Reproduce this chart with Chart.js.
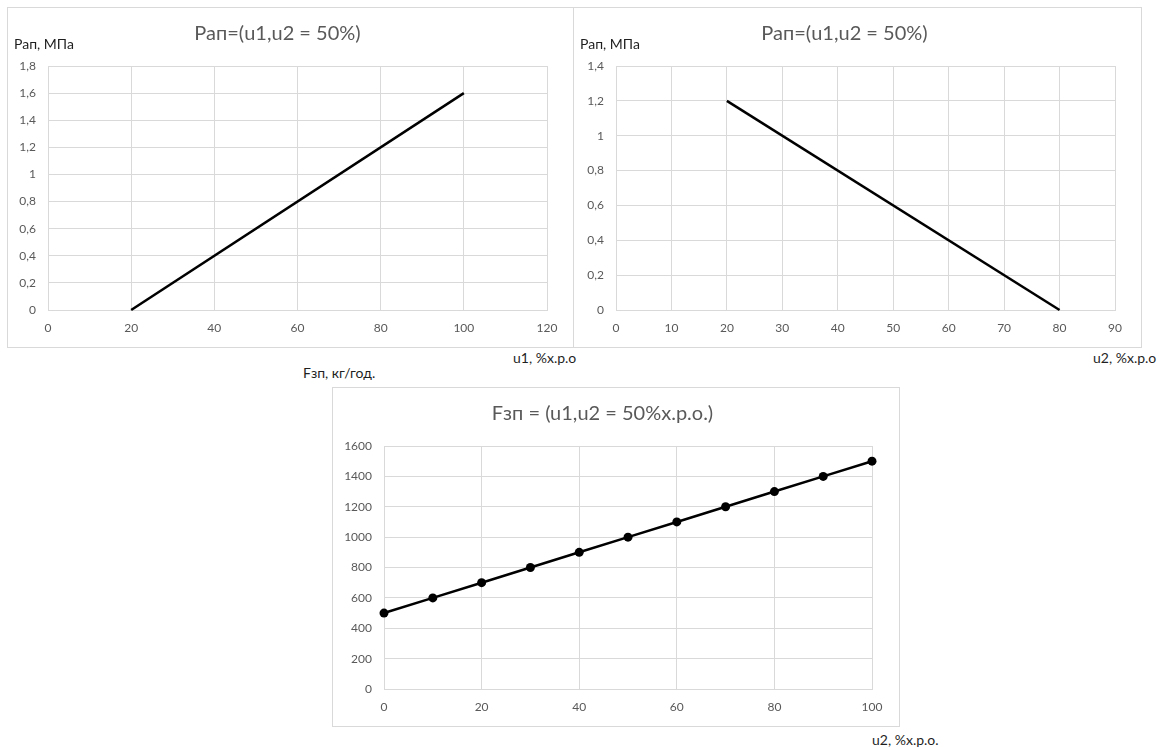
<!DOCTYPE html>
<html>
<head>
<meta charset="utf-8">
<script src="https://cdn.jsdelivr.net/npm/chart.js"></script>
<style>
  body { margin: 0; background: #fff; width: 1163px; height: 747px; position: relative; font-family: Lato, sans-serif; }
  .panel { position: absolute; border: 1px solid #d9d9d9; box-sizing: border-box; }
  .panel canvas { position: absolute; left: 0; top: 0; }
  .axis-title { position: absolute; font-size: 14px; color: #1f1f1f; white-space: nowrap; }
</style>
</head>
<body>

<div class="panel" style="left:7px; top:7px; width:567px; height:341px;"><canvas id="chartU1"></canvas></div>
<div class="panel" style="left:573px; top:7px; width:569px; height:341px;"><canvas id="chartU2"></canvas></div>
<div class="panel" style="left:332px; top:387px; width:568px; height:340px;"><canvas id="chartF"></canvas></div>

<div class="axis-title" style="left:14px; top:35px;">Рап, МПа</div>
<div class="axis-title" style="left:580px; top:35px;">Рап, МПа</div>
<div class="axis-title" style="left:513px; top:349px;">u1, %х.р.о</div>
<div class="axis-title" style="left:1093px; top:349px;">u2, %х.р.о</div>
<div class="axis-title" style="left:303px; top:364px;">Fзп, кг/год.</div>
<div class="axis-title" style="left:872px; top:731px;">u2, %х.р.о.</div>

<script>
// Рап vs u1 (u2 = 50%)
const u1Points = [20, 100];
const papU1 = [0, 1.6];

// Рап vs u2 (u1 = 50%)
const u2Points = [20, 80];
const papU2 = [1.2, 0];

// Fзп vs u2
const u2Steps = [0, 10, 20, 30, 40, 50, 60, 70, 80, 90, 100];
const fzpValues = [500, 600, 700, 800, 900, 1000, 1100, 1200, 1300, 1400, 1500];

const TEXT_GREY = "#595959";
const GRID_GREY = "#d9d9d9";
const FONT = "Lato, sans-serif";

function commaNum(v) {
    return String(Math.round(v * 10) / 10).replace(".", ",");
}

function toXY(xs, ys) {
    return xs.map((x, i) => ({ x: x, y: ys[i] }));
}

function makeChart(id, w, h, cfg) {
    const canvas = document.getElementById(id);
    canvas.width = w;
    canvas.height = h;
    canvas.style.width = w + "px";
    canvas.style.height = h + "px";

    return new Chart(canvas.getContext("2d"), {
        type: "scatter",
        data: {
            datasets: [{
                data: cfg.data,
                showLine: true,
                clip: false, // keep end markers whole
                borderColor: "#000",
                backgroundColor: "#000",
                borderWidth: 2.5,
                pointRadius: cfg.markers ? 4.5 : 0,
                pointBorderWidth: 0,
                pointHoverRadius: cfg.markers ? 4.5 : 0
            }]
        },
        options: {
            responsive: false,
            animation: false,
            layout: { padding: { left: 0, right: cfg.right, top: 0, bottom: 0 } },
            plugins: {
                legend: { display: false },
                tooltip: { enabled: false },
                title: {
                    display: true,
                    text: cfg.title,
                    color: TEXT_GREY,
                    font: { family: FONT, size: 20, weight: "normal" },
                    padding: { top: 14, bottom: 20 }
                }
            },
            scales: {
                x: {
                    type: "linear",
                    min: cfg.xMin, max: cfg.xMax,
                    ticks: { stepSize: cfg.xStep, color: TEXT_GREY, padding: 11, font: { family: FONT, size: 12 } },
                    grid: { color: GRID_GREY, drawTicks: false },
                    border: { color: GRID_GREY },
                    afterFit: s => { s.height = 37; }
                },
                y: {
                    min: cfg.yMin, max: cfg.yMax,
                    ticks: { stepSize: cfg.yStep, color: TEXT_GREY, padding: 12, font: { family: FONT, size: 12 }, callback: cfg.yFormat },
                    grid: { color: GRID_GREY, drawTicks: false },
                    border: { color: GRID_GREY },
                    afterFit: s => { s.width = cfg.left; }
                }
            }
        }
    });
}

makeChart("chartU1", 565, 339, {
    title: "Рап=(u1,u2 = 50%)",
    data: toXY(u1Points, papU1),
    markers: false,
    xMin: 0, xMax: 120, xStep: 20,
    yMin: 0, yMax: 1.8, yStep: 0.2,
    yFormat: commaNum,
    left: 40, right: 26
});

makeChart("chartU2", 567, 339, {
    title: "Рап=(u1,u2 = 50%)",
    data: toXY(u2Points, papU2),
    markers: false,
    xMin: 0, xMax: 90, xStep: 10,
    yMin: 0, yMax: 1.4, yStep: 0.2,
    yFormat: commaNum,
    left: 42, right: 26
});

makeChart("chartF", 566, 338, {
    title: "Fзп = (u1,u2 = 50%х.р.о.)",
    data: toXY(u2Steps, fzpValues),
    markers: true,
    xMin: 0, xMax: 100, xStep: 20,
    yMin: 0, yMax: 1600, yStep: 200,
    yFormat: v => String(v),
    left: 51, right: 27
});
</script>
</body>
</html>
